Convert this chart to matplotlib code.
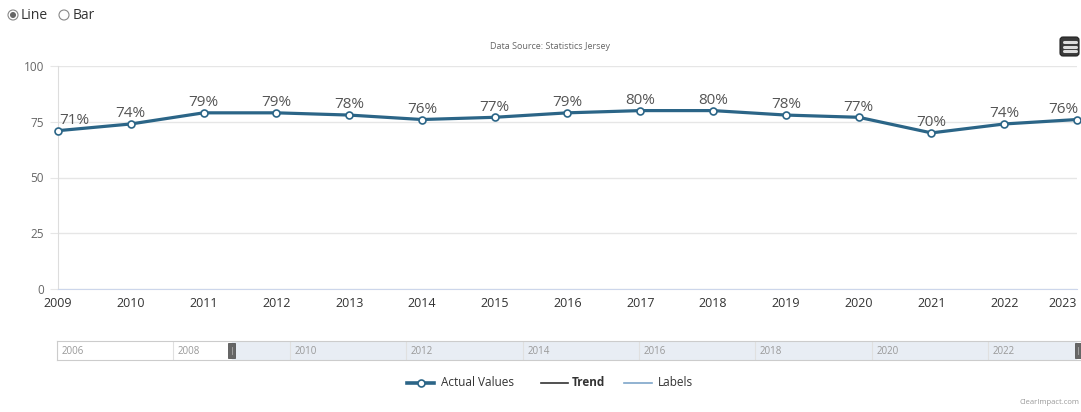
import matplotlib
matplotlib.use("Agg")
import matplotlib.pyplot as plt
from matplotlib.patches import FancyBboxPatch, Rectangle, Circle
from matplotlib.lines import Line2D

years = [2009, 2010, 2011, 2012, 2013, 2014, 2015, 2016, 2017, 2018, 2019, 2020, 2021, 2022, 2023]
values = [71, 74, 79, 79, 78, 76, 77, 79, 80, 80, 78, 77, 70, 74, 76]
labels = [f"{v}%" for v in values]
y_ticks = [0, 25, 50, 75, 100]
nav_ticks = [2006, 2008, 2010, 2012, 2014, 2016, 2018, 2020, 2022]

plt.rcParams['font.family'] = ['Open Sans', 'DejaVu Sans']

W, H = 1081, 412
fig = plt.figure(figsize=(W / 100, H / 100), dpi=100)

def fx(px):
    return px / W

def fy(py):
    return 1 - py / H

LINE = '#2b6587'

# main axes
ax = fig.add_axes([fx(58), fy(289), fx(1077) - fx(58), fy(66) - fy(289)])
ax.set_xlim(2009, 2023)
ax.set_ylim(0, 100)
ax.plot(years, values, color=LINE, lw=2.3, marker='o', ms=5, mfc='white', mec=LINE, mew=1.2,
        clip_on=False, zorder=3)
for i, (x, v, t) in enumerate(zip(years, values, labels)):
    ha = 'center'
    dx = 0
    if i == 0:
        ha = 'left'
        dx = 1
    elif i == len(years) - 1:
        ha = 'right'
        dx = 1
    ax.annotate(t, (x, v), xytext=(dx, 2), textcoords='offset points', ha=ha, va='bottom',
                fontsize=11, color='#555555', clip_on=False, zorder=4)

ax.set_yticks(y_ticks)
ax.set_xticks(years)
ax.set_xticklabels([str(y) for y in years])
ax.get_xticklabels()[-1].set_horizontalalignment('right')
ax.grid(axis='y', color='#e6e6e6', lw=1)
ax.set_axisbelow(True)
for s in ['top', 'right']:
    ax.spines[s].set_visible(False)
ax.spines['left'].set_color('#dddddd')
ax.spines['bottom'].set_color('#ccd6eb')
ax.tick_params(axis='y', length=6, color='#e6e6e6', labelsize=8.5, labelcolor='#666666', pad=4)
ax.tick_params(axis='x', length=0, labelsize=9, labelcolor='#333333', pad=6)

# navigator
nav = fig.add_axes([fx(57), fy(360), fx(1081) - fx(57), fy(341) - fy(360)])
nav.set_xlim(2006, 2006 + (1081 - 57) / 58.2)
nav.set_ylim(0, 1)
nav.axvspan(2009, 2023.5, color='#e8edf4', zorder=0)
for t in nav_ticks:
    nav.axvline(t, color='#e0e0e0', lw=0.8, zorder=1)
    nav.text(t + 0.08, 0.45, str(t), fontsize=7, color='#999999', va='center', ha='left', zorder=2)
nav.set_xticks([])
nav.set_yticks([])
for s in nav.spines.values():
    s.set_color('#cccccc')
    s.set_linewidth(0.8)
for hx in [2009, 2006 + (1078 - 57) / 58.2]:
    nav.add_patch(Rectangle((hx - 0.06, 0.12), 0.12, 0.76, facecolor='#666666', edgecolor='#444444',
                            lw=0.5, zorder=5, clip_on=False))
    nav.plot([hx, hx], [0.3, 0.7], color='#aaaaaa', lw=0.6, zorder=6, clip_on=False)

# overlay for decorations, pixel coordinates
ov = fig.add_axes([0, 0, 1, 1], facecolor='none')
ov.set_xlim(0, W)
ov.set_ylim(H, 0)
ov.axis('off')

# radio buttons
ov.add_patch(Circle((13, 15), 5, facecolor='white', edgecolor='#888888', lw=0.8))
ov.add_patch(Circle((13, 15), 3, facecolor='#666666', edgecolor='none'))
ov.text(21, 15, 'Line', fontsize=10, color='#333333', va='center', ha='left')
ov.add_patch(Circle((64, 15), 5, facecolor='white', edgecolor='#888888', lw=0.8))
ov.text(73, 15, 'Bar', fontsize=10, color='#333333', va='center', ha='left')

# source
ov.text(550, 46, 'Data Source: Statistics Jersey', fontsize=6.5, color='#666666', ha='center', va='center')

# menu button
ov.add_patch(FancyBboxPatch((1060, 37), 19, 19, boxstyle='round,pad=0,rounding_size=3',
                            facecolor='#3a3a3a', edgecolor='#222222', lw=0.8))
for yy in [42, 46.5, 51]:
    ov.plot([1063.5, 1075.5], [yy, yy], color='#dddddd', lw=2.2, solid_capstyle='round')

# legend
ov.add_line(Line2D([407, 434], [383, 383], color=LINE, lw=2.6))
ov.add_line(Line2D([420.5], [383], marker='o', ms=5, mfc='white', mec=LINE, mew=1.2))
ov.text(441, 383, 'Actual Values', fontsize=8.5, color='#333333', va='center', ha='left')
ov.add_line(Line2D([541, 568], [383, 383], color='#333333', lw=1.2))
ov.text(572, 383, 'Trend', fontsize=8.5, color='#333333', va='center', ha='left', fontweight='bold')
ov.add_line(Line2D([624, 652], [383, 383], color='#7ea6c9', lw=1.2))
ov.text(658, 383, 'Labels', fontsize=8.5, color='#333333', va='center', ha='left')

ov.text(1079, 403, 'ClearImpact.com', fontsize=5.5, color='#999999', ha='right', va='center')

fig.savefig('out.png', dpi=100)
